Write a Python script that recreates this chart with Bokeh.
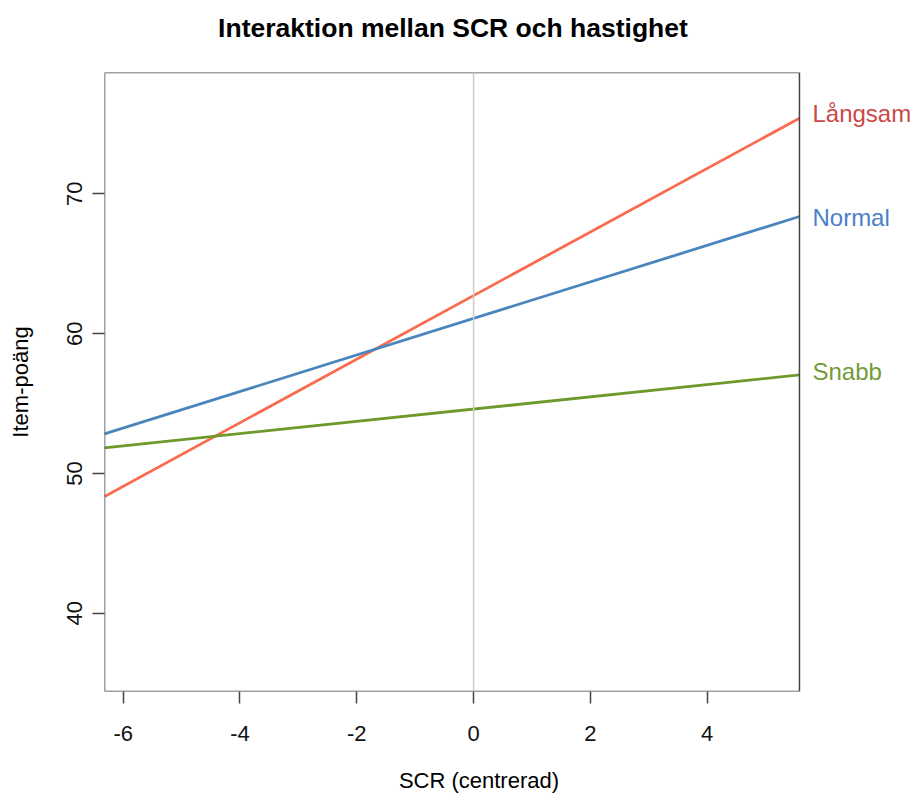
from bokeh.plotting import figure
from bokeh.layouts import column
from bokeh.models import Range1d, Span, Label, FixedTicker, BoxAnnotation
from bokeh.embed import file_html
from bokeh.resources import INLINE

# ---- data ----
x_ends = [-6.32, 5.58]
y_lims = [34.4, 78.68]
series_names = ["Långsam", "Normal", "Snabb"]
langsam = [48.35, 75.41]
normal = [52.83, 68.38]
snabb = [51.83, 57.05]
x_ticks = [-6, -4, -2, 0, 2, 4]
y_ticks = [40, 50, 60, 70]
title_text = "Interaktion mellan SCR och hastighet"
x_label = "SCR (centrerad)"
y_label = "Item-poäng"

FONT = "Liberation Sans"
line_colors = ["#F96B4F", "#4A86BD", "#6E9A2C"]
label_colors = ["#CB4848", "#4A80C8", "#729B38"]
label_dy = [5, -1, 3]

W = 913
LEFT = 104
TOP_H, MAIN_H, BOT_H = 68, 689, 36

# frame extends into the right margin so the end labels can be drawn there
px_per_unit = 58.4
x_right = x_ends[0] + (W - LEFT) / px_per_unit
xr = Range1d(x_ends[0], x_right)
x_mid = (x_ends[0] + x_ends[1]) / 2


def blank(height):
    f = figure(width=W, height=height, output_backend="svg", toolbar_location=None,
               x_range=xr, y_range=Range1d(0, height),
               x_axis_type=None, y_axis_type=None,
               min_border_left=LEFT, min_border_right=0, min_border_top=0, min_border_bottom=0)
    f.xgrid.visible = False
    f.ygrid.visible = False
    f.outline_line_color = None
    f.background_fill_color = "white"
    f.border_fill_color = "white"
    return f


# ---- title strip ----
top = blank(TOP_H)
top.add_layout(Label(x=x_mid, y=TOP_H - 27.8, x_offset=1, text=title_text, text_font=FONT,
                     text_font_size="26.5px", text_font_style="bold", text_color="#000000",
                     text_align="center", text_baseline="middle"))

# ---- main plot ----
p = figure(width=W, height=MAIN_H, output_backend="svg", toolbar_location=None,
           x_range=xr, y_range=Range1d(y_lims[0], y_lims[1]),
           min_border_left=LEFT, min_border_right=0, min_border_top=4, min_border_bottom=66)
p.xgrid.visible = False
p.ygrid.visible = False
p.outline_line_color = None
p.background_fill_color = "white"
p.border_fill_color = "white"

for ax in (p.xaxis[0], p.yaxis[0]):
    ax.axis_line_color = None
    ax.major_tick_out = 12
    ax.major_tick_in = 0
    ax.minor_tick_line_color = None
    ax.major_tick_line_color = "#444444"
    ax.major_tick_line_width = 1.5
    ax.major_label_text_font = FONT
    ax.major_label_text_font_size = "22px"
    ax.major_label_text_color = "#111111"
    ax.axis_label_text_font = FONT
    ax.axis_label_text_font_size = "22px"
    ax.axis_label_text_font_style = "normal"
    ax.axis_label_text_color = "#000000"

p.xaxis[0].ticker = FixedTicker(ticks=x_ticks)
p.yaxis[0].ticker = FixedTicker(ticks=y_ticks)
p.xaxis[0].major_label_overrides = {t: str(t) for t in x_ticks}
p.xaxis[0].major_label_standoff = 22
p.yaxis[0].axis_label = y_label
p.yaxis[0].major_label_orientation = "vertical"
p.yaxis[0].major_label_standoff = 10
p.yaxis[0].axis_label_standoff = 32

p.add_layout(BoxAnnotation(left=x_ends[0], right=x_ends[1], bottom=y_lims[0], top=y_lims[1],
                           fill_alpha=0, line_color="#444444", line_alpha=1.0, line_width=1.5))
p.add_layout(Span(location=0, dimension="height", line_color="#CCCCCC", line_width=1.5))

for name, ys, lc, tc, dy in zip(series_names, [langsam, normal, snabb], line_colors, label_colors, label_dy):
    p.line(x_ends, ys, line_color=lc, line_width=2.8)
    p.add_layout(Label(x=x_ends[1], y=ys[1], text=name, x_offset=13, y_offset=dy,
                       text_font=FONT, text_font_size="24px", text_color=tc,
                       text_baseline="middle", text_align="left"))

# ---- x label strip ----
bot = blank(BOT_H)
bot.add_layout(Label(x=x_mid, y=BOT_H - 23.4, x_offset=27, text=x_label, text_font=FONT,
                     text_font_size="22px", text_color="#000000",
                     text_align="center", text_baseline="middle"))

layout = column(top, p, bot, spacing=0)
open("out.html", "w").write(file_html(layout, INLINE))
